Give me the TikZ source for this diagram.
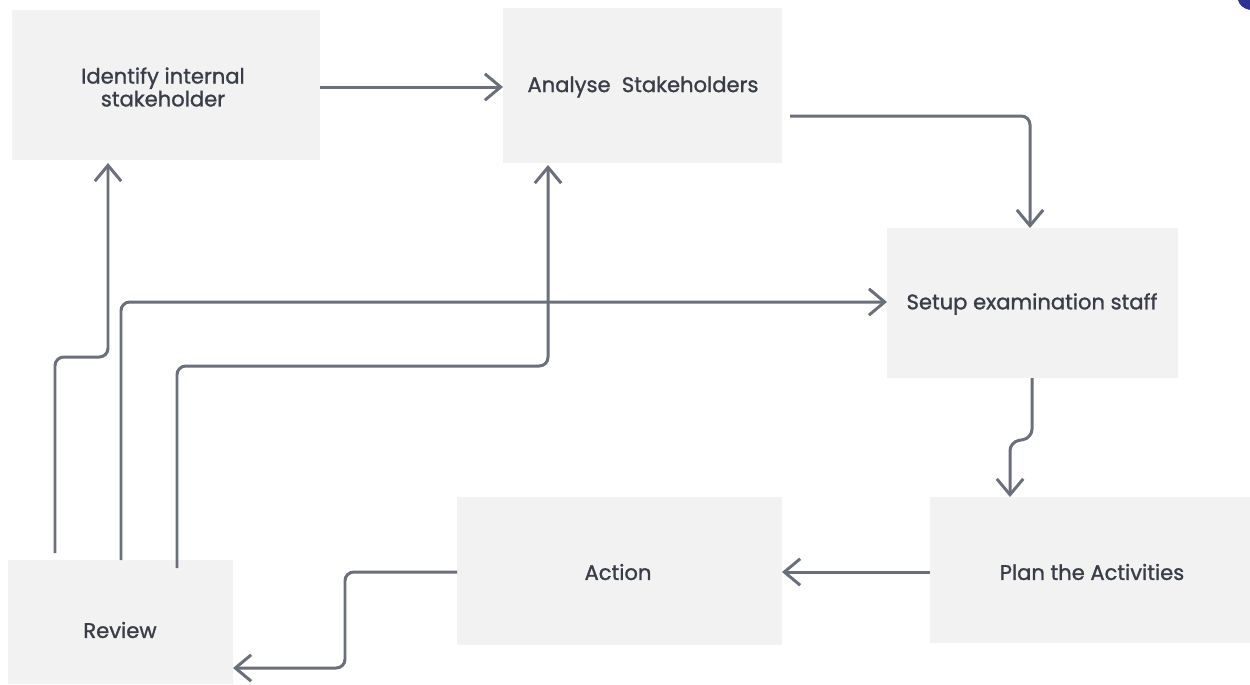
\documentclass[tikz,border=0pt]{standalone}
\usepackage{fontspec}
\setmainfont{Poppins}
\newfontfamily\labfont{Poppins}[FakeBold=1.2]
\usetikzlibrary{arrows.meta}
\definecolor{boxfill}{HTML}{F2F2F3}
\definecolor{linecol}{HTML}{6B6F7A}
\definecolor{txtcol}{HTML}{3A3D48}
\definecolor{bluecorner}{HTML}{2E3192}
\begin{document}
\begin{tikzpicture}[x=0.02cm,y=-0.02cm,
  box/.style={fill=boxfill,draw=none,text=txtcol,font=\labfont\fontsize{12}{13}\selectfont,align=center,inner sep=0pt},
  conn/.style={draw=linecol,line width=1.7pt,rounded corners=5pt,
    -{Straight Barb[length=9pt,width=15pt,line width=1.7pt]}}]
\useasboundingbox (0,0) rectangle (1250,684);
% boxes
\fill[boxfill] (12,10) rectangle (320,160);
\node[box] (idt) at (163,87) {Identify internal\\stakeholder};
\fill[boxfill] (503,8) rectangle (782,163);
\node[box] (ana) at (643,87) {Analyse\ \ Stakeholders};
\fill[boxfill] (887,228) rectangle (1178,378);
\node[box] (set) at (1032,304) {Setup examination staff};
\fill[boxfill] (930,497) rectangle (1250,643);
\node[box] (pla) at (1092,572) {Plan the Activities};
\fill[boxfill] (457,497) rectangle (782,645);
\node[box] (act) at (618,572) {Action};
\fill[boxfill] (8,560) rectangle (233,684);
\node[box] (rev) at (120,630) {Review};
% corner mark
\fill[bluecorner] (1238,0) -- (1250,0) -- (1250,10) .. controls (1244,9) and (1239,5) .. (1238,0) -- cycle;
% anchor coordinates
\coordinate (a1s) at (320,87);  \coordinate (a1e) at (503,87);
\coordinate (a2s) at (790,116); \coordinate (a2e) at (1030,228);
\coordinate (a3s) at (1032,378); \coordinate (a3e) at (1010,497);
\coordinate (a4s) at (930,572); \coordinate (a4e) at (782,572);
\coordinate (a5s) at (457,572); \coordinate (a5e) at (233,668);
\coordinate (a6s) at (55,553);  \coordinate (a6e) at (108,163);
\coordinate (a7s) at (121,560); \coordinate (a7e) at (887,302);
\coordinate (a8s) at (177,568); \coordinate (a8e) at (548,165);
% connectors
\draw[conn] (a1s) -- (a1e);
\draw[conn] (a2s) -| (a2e);
\draw[conn] (a3s) -- (1032,438) -- (1010,442) -- (a3e);
\draw[conn] (a4s) -- (a4e);
\draw[conn] (a5s) -- (345,572) -- (345,668) -- (a5e);
\draw[conn] (a6s) -- (55,357) -- (108,357) -- (a6e);
\draw[conn] (a7s) |- (a7e);
\draw[conn] (a8s) -- (177,366) -- (548,366) -- (a8e);
\end{tikzpicture}
\end{document}
